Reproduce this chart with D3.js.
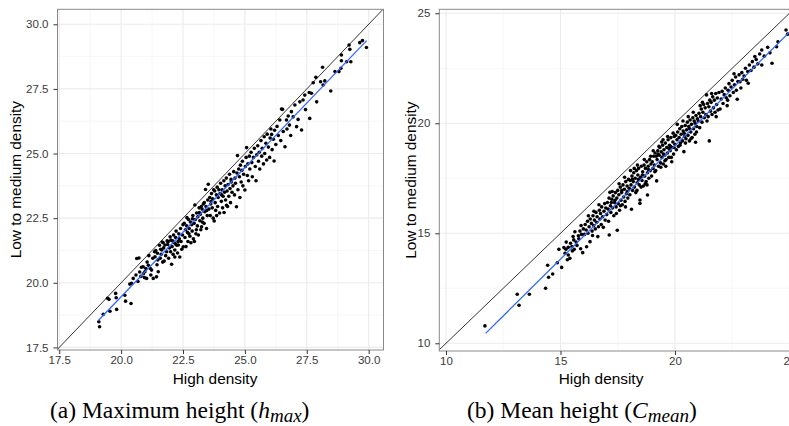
<!DOCTYPE html>
<html>
<head>
<meta charset="utf-8">
<script src="https://cdn.jsdelivr.net/npm/d3@7"></script>
<style>
  body { margin: 0; background: #fff; }
  svg { display: block; }
</style>
</head>
<body>
<div id="chart"></div>
<script>
// panel (a): maximum height, [high density, low to medium density]
var maxHeightPts = [
  [19.10,18.49],[19.13,18.30],[19.28,18.78],[19.45,19.40],[19.51,19.36],[19.55,18.90],[19.78,19.59],[19.80,19.42],
  [19.82,18.97],[20.15,19.52],[20.18,19.29],[20.40,19.20],[20.35,19.95],[20.42,19.98],[20.49,20.17],
  [20.63,20.94],[20.72,20.96],[20.60,20.30],[20.68,20.05],[20.75,20.42],[20.82,20.60],[20.89,20.62],[20.94,20.20],
  [20.96,20.43],[21.03,20.17],[21.05,20.80],[21.10,20.68],[21.12,21.05],[21.18,20.55],[21.23,20.49],[21.30,20.17],
  [21.28,20.95],[21.35,21.20],[21.37,21.01],[21.43,20.23],[21.45,20.70],[21.47,21.14],[21.50,20.43],[21.48,20.88],
  [20.90,20.35],[21.00,20.55],[21.20,20.30],[21.40,21.25],[20.80,20.25],
  [21.55,21.45],[21.58,20.95],[21.62,21.10],[21.64,21.27],[21.68,20.80],[21.70,21.55],[21.74,20.84],[21.77,21.46],
  [21.80,21.05],[21.84,21.20],[21.86,21.62],[21.90,21.59],[21.92,20.95],[21.95,21.35],[21.98,21.78],[22.01,21.65],
  [22.04,20.72],[22.06,21.40],[22.10,21.10],[22.12,21.85],[22.15,21.55],[22.17,21.00],[22.17,21.27],[22.20,21.75],
  [22.22,22.00],[22.25,21.45],[22.28,21.15],[22.31,21.46],[22.33,21.90],[22.35,21.70],[22.37,21.00],[22.40,22.10],
  [22.42,21.60],[22.45,21.30],[22.48,21.85],[22.51,21.39],[22.50,22.25],[21.60,21.30],[21.72,21.35],[21.88,21.48],
  [22.00,21.20],[22.30,21.60],[22.20,21.50],[21.66,21.58],[22.08,21.62],
  [22.55,22.30],[22.58,21.75],[22.60,22.05],[22.62,21.40],[22.65,22.20],[22.68,21.95],[22.70,21.60],[22.72,22.45],
  [22.75,22.10],[22.78,21.80],[22.80,22.35],[22.82,21.55],[22.85,22.25],[22.87,22.00],[22.90,22.60],[22.92,21.70],
  [22.95,22.30],[22.98,23.01],[23.00,22.45],[23.02,21.90],[23.05,22.70],[23.08,22.20],[23.10,22.55],[23.12,21.85],
  [23.15,22.90],[23.18,22.40],[23.20,22.65],[23.22,22.05],[23.25,22.17],[23.27,22.85],[23.30,22.50],[23.32,23.05],
  [23.35,22.30],[23.38,22.75],[23.41,23.61],[23.43,22.95],[23.45,22.10],[23.48,22.60],[23.50,23.20],[23.52,23.81],
  [22.66,22.52],[22.74,21.90],[22.88,22.48],[23.04,22.05],[23.16,22.72],[23.28,22.35],[23.36,23.10],[23.46,22.80],
  [22.96,21.60],[23.24,22.95],
  [23.55,22.85],[23.58,23.30],[23.60,22.60],[23.62,23.05],[23.65,23.45],[23.68,22.90],[23.70,23.25],[23.72,22.50],
  [23.76,22.39],[23.78,23.55],[23.80,23.10],[23.82,22.80],[23.85,23.40],[23.88,23.70],[23.90,22.95],[23.92,23.30],
  [23.95,23.60],[23.98,22.70],[24.00,23.45],[24.02,23.85],[24.05,23.15],[24.08,23.60],[24.10,22.90],[24.12,23.35],
  [24.15,23.95],[24.16,22.72],[24.18,23.50],[24.20,23.75],[24.22,23.20],[24.25,24.05],[24.28,23.55],[24.30,22.95],
  [24.32,23.80],[24.35,23.35],[24.38,24.20],[24.40,23.65],[24.42,23.10],[24.45,23.90],[24.48,23.50],[23.64,23.15],
  [23.86,22.60],[24.06,23.40],[24.26,23.00],[24.44,24.00],[23.74,23.60],
  [24.52,23.75],[24.55,24.30],[24.58,23.40],[24.60,24.05],[24.62,23.85],[24.66,22.94],[24.68,24.25],[24.70,24.92],
  [24.72,23.60],[24.75,24.40],[24.78,24.10],[24.80,23.30],[24.82,24.55],[24.85,23.90],[24.88,24.35],[24.90,24.70],
  [24.92,23.75],[24.95,24.20],[25.00,23.59],[25.02,24.50],[25.05,24.85],[25.07,25.23],[25.10,24.15],[25.12,24.60],
  [25.15,23.95],[25.18,24.90],[25.20,24.40],[25.25,25.05],[25.28,24.65],[25.30,24.10],[25.35,24.85],[25.38,25.20],
  [25.42,24.50],[25.45,23.95],[25.48,24.95],
  [25.52,25.30],[25.55,24.70],[25.58,25.05],[25.60,24.40],[25.65,25.50],[25.68,24.90],[25.70,25.20],[25.75,24.60],
  [25.78,25.65],[25.80,25.00],[25.85,25.40],[25.88,24.75],[25.90,25.75],[25.95,25.25],[26.00,24.85],[26.02,25.60],
  [26.05,25.95],[26.08,25.74],[26.10,25.15],[26.15,25.55],[26.18,24.71],[26.20,25.90],[26.25,25.35],[26.30,26.05],
  [26.35,25.70],[26.41,26.30],[26.45,25.50],[26.48,26.72],
  [26.52,26.71],[26.55,25.85],[26.62,25.26],[26.68,26.30],[26.70,25.95],[26.75,26.45],[26.80,26.10],[26.85,25.70],
  [26.88,26.62],[26.95,26.42],[27.02,26.88],[27.09,26.04],[27.15,26.32],[27.22,27.00],[27.29,25.91],[27.35,27.07],
  [27.42,27.26],[27.45,26.70],[27.60,27.36],[27.62,26.36],[27.69,27.33],[27.76,27.74],[27.87,27.95],[27.90,27.00],
  [28.06,27.78],[28.14,28.34],[28.16,27.65],[28.23,27.81],[28.47,27.42],[28.64,28.17],[28.80,28.17],[28.88,28.30],
  [28.90,28.81],[28.90,28.59],[29.11,28.55],[29.21,29.20],[29.24,29.03],[29.28,28.55],[29.64,29.29],[29.75,29.37],
  [29.91,29.10]
];

// panel (b): mean height, [high density, low to medium density]
var meanHeightPts = [
  [11.70,10.79],[13.11,12.23],[13.19,11.73],[13.64,12.23],[14.35,12.50],[14.44,13.55],[14.48,13.00],[14.66,13.15],
  [14.86,13.66],[14.93,14.27],[15.05,13.45],
  [15.15,14.35],[15.20,14.09],[15.24,14.27],[15.30,13.80],[15.34,14.36],[15.34,14.01],[15.41,13.86],[15.44,14.55],
  [15.50,14.40],[15.52,14.20],[15.58,14.70],[15.60,14.27],[15.63,15.07],[15.68,14.60],[15.72,14.45],[15.78,14.89],
  [15.80,14.75],[15.85,15.10],[15.88,14.30],[15.92,14.95],[15.97,14.12],[16.00,15.20],[15.55,14.85],[15.25,14.60],
  [15.90,15.35],
  [16.05,14.95],[16.08,15.40],[16.12,15.15],[16.14,14.39],[16.18,15.55],[16.20,15.00],[16.25,15.30],[16.29,14.62],
  [16.30,15.65],[16.35,15.45],[16.38,15.10],[16.42,15.80],[16.45,15.35],[16.48,15.60],[16.52,15.20],[16.55,15.95],
  [16.58,15.50],[16.60,15.75],[16.63,14.85],[16.66,15.30],[16.70,16.05],[16.72,15.65],[16.75,15.90],[16.78,15.40],
  [16.80,16.20],[16.84,15.75],[16.87,15.27],[16.90,16.00],[16.93,16.35],[16.95,15.60],[16.98,16.15],[16.22,15.80],
  [16.46,16.00],[16.68,16.30],[16.40,14.90],
  [17.02,15.85],[17.05,16.40],[17.08,16.10],[17.10,15.55],[17.13,14.92],[17.16,16.86],[17.18,16.25],[17.20,15.95],
  [17.24,16.55],[17.27,16.15],[17.30,16.70],[17.33,15.80],[17.36,16.40],[17.40,16.85],[17.43,16.20],[17.46,16.60],
  [17.48,15.14],[17.50,16.95],[17.52,16.35],[17.55,16.75],[17.58,16.05],[17.61,17.10],[17.64,16.50],[17.67,16.85],
  [17.70,16.30],[17.73,17.20],[17.76,16.65],[17.79,17.00],[17.82,16.45],[17.85,17.35],[17.88,16.80],[17.91,17.15],
  [17.94,16.60],[17.97,17.45],[17.12,16.60],[17.26,16.90],[17.38,16.50],[17.56,17.25],[17.68,16.95],[17.80,17.55],
  [17.92,16.90],[17.44,15.90],[17.62,16.25],[17.84,16.20],[17.22,16.40],
  [18.00,17.05],[18.03,16.75],[18.05,17.40],[18.08,17.20],[18.10,16.09],[18.12,17.60],[18.15,16.95],[18.18,17.35],
  [18.20,17.75],[18.23,17.10],[18.26,17.50],[18.29,16.85],[18.32,17.85],[18.35,17.30],[18.38,17.65],[18.41,17.95],
  [18.44,17.20],[18.47,16.51],[18.47,16.36],[18.50,17.55],[18.53,18.05],[18.56,17.40],[18.59,17.80],[18.62,17.15],
  [18.65,18.10],[18.68,17.60],[18.71,17.95],[18.74,17.35],[18.77,18.25],[18.80,16.74],[18.80,17.75],[18.83,18.05],
  [18.86,17.50],[18.89,18.35],[18.92,17.85],[18.95,18.15],[18.98,17.60],[18.06,17.85],[18.22,17.95],[18.36,18.10],
  [18.52,17.10],[18.66,18.35],[18.78,17.20],[18.94,18.50],[18.14,17.45],[18.40,17.45],[18.58,17.65],[18.70,17.25],
  [18.84,17.90],[18.34,16.95],
  [19.01,18.25],[19.04,17.95],[19.07,18.50],[19.10,18.10],[19.13,18.65],[19.16,17.85],[19.20,17.38],[19.22,18.35],
  [19.25,18.75],[19.28,18.05],[19.31,18.55],[19.34,18.90],[19.37,18.20],[19.40,18.70],[19.43,18.45],[19.46,19.00],
  [19.49,18.15],[19.52,18.80],[19.55,18.55],[19.58,19.10],[19.61,18.35],[19.64,18.90],[19.67,18.65],[19.70,19.25],
  [19.73,18.45],[19.76,19.00],[19.79,18.75],[19.82,19.35],[19.86,18.25],[19.88,18.90],[19.91,19.15],[19.94,18.60],
  [19.97,19.40],[19.05,18.75],[19.18,18.50],[19.30,18.95],[19.42,19.15],[19.56,18.30],[19.68,19.40],[19.80,18.95],
  [19.92,19.55],[19.12,17.80],[19.38,18.00],[19.60,18.05],[19.84,18.45],[19.26,18.60],[19.50,18.60],[19.74,18.85],
  [19.96,18.90],[19.48,19.25],
  [20.00,19.05],[20.03,19.45],[20.06,18.80],[20.09,19.25],[20.12,19.60],[20.15,18.95],[20.18,19.35],[20.21,19.75],
  [20.24,19.10],[20.27,19.50],[20.30,19.85],[20.33,19.20],[20.36,19.65],[20.39,18.71],[20.42,19.40],[20.45,19.90],
  [20.48,19.30],[20.51,19.70],[20.54,20.05],[20.57,19.45],[20.60,19.85],[20.63,19.20],[20.66,20.15],[20.69,19.60],
  [20.72,19.95],[20.75,19.35],[20.78,20.25],[20.81,19.75],[20.84,20.10],[20.87,19.50],[20.90,19.14],[20.92,20.35],
  [20.95,19.85],[20.98,20.20],[20.10,19.95],[20.35,20.10],[20.58,20.30],[20.80,20.50],[20.22,19.00],[20.46,19.10],
  [20.70,19.30],[20.94,19.60],[20.40,19.55],[20.64,19.75],[20.88,20.00],
  [21.02,20.10],[21.05,20.45],[21.08,19.80],[21.12,20.30],[21.15,20.65],[21.18,20.05],[21.22,20.50],[21.25,20.85],
  [21.28,20.25],[21.32,20.70],[21.35,20.40],[21.38,21.29],[21.42,20.90],[21.45,20.30],[21.48,20.75],[21.50,19.20],
  [21.52,21.05],[21.55,20.55],[21.58,20.95],[21.62,20.40],[21.65,21.20],[21.68,20.70],[21.72,21.05],[21.75,20.50],
  [21.78,21.35],[21.82,20.85],[21.85,21.15],[21.88,20.60],[21.92,21.40],[21.97,20.65],[21.20,20.95],[21.40,20.10],
  [21.60,21.35],[21.80,20.30],[21.10,20.80],
  [22.02,21.10],[22.06,21.45],[22.10,20.90],[22.15,21.30],[22.20,21.60],[22.24,21.16],[22.28,20.80],[22.32,21.50],
  [22.36,21.80],[22.40,21.25],[22.45,21.65],[22.50,21.95],[22.55,21.40],[22.60,21.75],[22.65,22.10],[22.68,21.50],
  [22.72,21.09],[22.75,21.90],[22.80,22.20],[22.84,21.89],[22.88,21.60],[22.92,22.30],[22.96,22.00],[22.30,21.05],
  [22.58,22.25],
  [23.02,22.15],[23.08,22.50],[23.12,21.95],[23.18,22.35],[23.20,21.82],[23.25,22.65],[23.32,22.40],[23.38,22.80],
  [23.45,22.55],[23.49,23.03],[23.55,22.90],[23.62,22.70],[23.70,23.15],[23.79,23.33],[23.79,22.65],[23.90,23.05],
  [24.05,23.45],[24.15,23.20],[24.24,22.73],[24.44,23.48],[24.50,23.70],[24.85,24.24],[24.92,24.05],[25.10,24.30]
];

// fitted lines (start, end)
var maxFit = [[19.07, 18.53], [29.92, 29.37]];
var meanFit = [[11.73, 10.45], [25.30, 24.45]];

// axis ticks
var maxTicks = [17.5, 20.0, 22.5, 25.0, 27.5, 30.0];
var maxMinor = [18.75, 21.25, 23.75, 26.25, 28.75];
var meanTicks = [10, 15, 20, 25];
var meanMinor = [12.5, 17.5, 22.5];

var xTitle = "High density";
var yTitle = "Low to medium density";

var svgWidth = 789;
var svgHeight = 426;

var svg = d3.select("#chart")
  .append("svg")
  .attr("width", svgWidth)
  .attr("height", svgHeight)
  .style("font-family", "'Liberation Sans', Arial, sans-serif");

function drawPanel(p) {
  var x = d3.scaleLinear().domain(p.xDomain).range([p.left, p.right]);
  var y = d3.scaleLinear().domain(p.yDomain).range([p.bottom, p.top]);

  var g = svg.append("g");

  g.append("clipPath").attr("id", p.id)
    .append("rect")
    .attr("x", p.left).attr("y", p.top)
    .attr("width", p.right - p.left).attr("height", p.bottom - p.top);

  // grid
  var grid = g.append("g").attr("clip-path", `url(#${p.id})`);
  grid.selectAll(".vminor").data(p.minor).join("line")
    .attr("x1", d => x(d)).attr("x2", d => x(d))
    .attr("y1", p.top).attr("y2", p.bottom)
    .attr("stroke", "#f5f5f5").attr("stroke-width", 0.8);
  grid.selectAll(".hminor").data(p.minor).join("line")
    .attr("y1", d => y(d)).attr("y2", d => y(d))
    .attr("x1", p.left).attr("x2", p.right)
    .attr("stroke", "#f5f5f5").attr("stroke-width", 0.8);
  grid.selectAll(".vmajor").data(p.ticks).join("line")
    .attr("x1", d => x(d)).attr("x2", d => x(d))
    .attr("y1", p.top).attr("y2", p.bottom)
    .attr("stroke", "#ebebeb").attr("stroke-width", 1.1);
  grid.selectAll(".hmajor").data(p.ticks).join("line")
    .attr("y1", d => y(d)).attr("y2", d => y(d))
    .attr("x1", p.left).attr("x2", p.right)
    .attr("stroke", "#ebebeb").attr("stroke-width", 1.1);

  var plot = g.append("g").attr("clip-path", `url(#${p.id})`);

  plot.selectAll("circle").data(p.points).join("circle")
    .attr("cx", d => x(d[0]))
    .attr("cy", d => y(d[1]))
    .attr("r", 1.8)
    .attr("fill", "#000");

  // 1:1 line
  var lo = Math.min(p.xDomain[0], p.yDomain[0]);
  var hi = Math.max(p.xDomain[1], p.yDomain[1]);
  plot.append("line")
    .attr("x1", x(lo)).attr("y1", y(lo))
    .attr("x2", x(hi)).attr("y2", y(hi))
    .attr("stroke", "#000").attr("stroke-width", 0.8);

  // regression line
  plot.append("path")
    .datum(p.fit)
    .attr("d", d3.line().x(d => x(d[0])).y(d => y(d[1])))
    .attr("fill", "none")
    .attr("stroke", "#3366FF")
    .attr("stroke-width", 1.3);

  g.append("rect")
    .attr("x", p.left).attr("y", p.top)
    .attr("width", p.right - p.left).attr("height", p.bottom - p.top)
    .attr("fill", "none").attr("stroke", "#8a8a8a").attr("stroke-width", 1);

  var bottomAxis = d3.axisBottom(x).tickValues(p.ticks).tickFormat(p.fmt).tickSize(4).tickPadding(2);
  var leftAxis = d3.axisLeft(y).tickValues(p.ticks).tickFormat(p.fmt).tickSize(4).tickPadding(5);

  var ax = g.append("g").attr("transform", `translate(0, ${p.bottom})`).call(bottomAxis);
  var ay = g.append("g").attr("transform", `translate(${p.left}, 0)`).call(leftAxis);
  [ax, ay].forEach(a => {
    a.select(".domain").remove();
    a.selectAll("line").attr("stroke", "#333");
    a.selectAll("text")
      .attr("fill", "#3a3a3a")
      .style("font-size", "11.5px")
      .style("font-family", "'Liberation Sans', Arial, sans-serif");
  });

  g.append("text")
    .attr("x", p.xTitleX).attr("y", 384)
    .attr("text-anchor", "middle")
    .style("font-size", "15.4px")
    .text(xTitle);

  g.append("text")
    .attr("transform", `translate(${p.yTitleX}, ${(p.top + p.bottom) / 2}) rotate(-90)`)
    .attr("text-anchor", "middle")
    .style("font-size", "15.4px")
    .text(yTitle);
}

drawPanel({
  id: "clipA", left: 57.5, right: 383.5, top: 9.3, bottom: 350,
  xDomain: [17.43, 30.6], yDomain: [17.4, 30.58],
  ticks: maxTicks, minor: maxMinor, fmt: d3.format(".1f"),
  points: maxHeightPts, fit: maxFit, xTitleX: 215, yTitleX: 21
});

drawPanel({
  id: "clipB", left: 439.3, right: 797, top: 9.3, bottom: 351,
  xDomain: [9.707, 25.33], yDomain: [9.65, 25.18],
  ticks: meanTicks, minor: meanMinor, fmt: d3.format("d"),
  points: meanHeightPts, fit: meanFit, xTitleX: 601, yTitleX: 416
});

// sub-captions
var captionA = svg.append("text")
  .attr("x", 50).attr("y", 418)
  .style("font-family", "'Liberation Serif', 'DejaVu Serif', serif")
  .style("font-size", "23.5px");
captionA.append("tspan").text("(a) Maximum height (");
captionA.append("tspan").style("font-style", "italic").text("h");
captionA.append("tspan").style("font-style", "italic").style("font-size", "19px").attr("dy", 4).text("max");
captionA.append("tspan").attr("dy", -4).text(")");

var captionB = svg.append("text")
  .attr("x", 467).attr("y", 418)
  .style("font-family", "'Liberation Serif', 'DejaVu Serif', serif")
  .style("font-size", "23.5px");
captionB.append("tspan").text("(b) Mean height (");
captionB.append("tspan").style("font-style", "italic").text("C");
captionB.append("tspan").style("font-style", "italic").style("font-size", "19px").attr("dy", 4).text("mean");
captionB.append("tspan").attr("dy", -4).text(")");
</script>
</body>
</html>
